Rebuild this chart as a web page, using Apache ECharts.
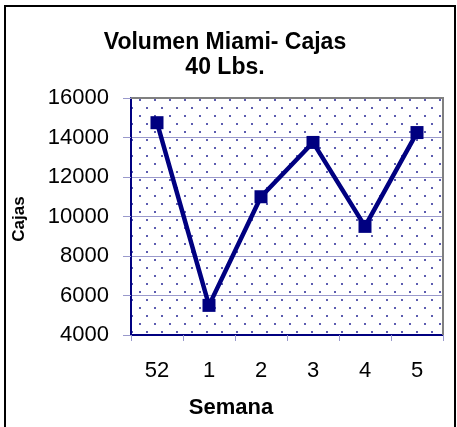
<!DOCTYPE html>
<html>
<head>
<meta charset="utf-8">
<script src="https://cdn.jsdelivr.net/npm/echarts@6/dist/echarts.min.js"></script>
<style>
  html, body { margin: 0; padding: 0; background: #fff; }
  #chart { width: 457px; height: 427px; }
</style>
</head>
<body>
<div id="chart"></div>
<script>
    // datos
    var semanas = ['52', '1', '2', '3', '4', '5'];
    var cajas = [14750, 5500, 11000, 13750, 9500, 14250];
    var yTicks = [4000, 6000, 8000, 10000, 12000, 14000, 16000];

    // dotted background like the excel fill
    var pat = document.createElement('canvas');
    pat.width = 15;
    pat.height = 16;
    var ctx = pat.getContext('2d');
    ctx.fillStyle = '#fff';
    ctx.fillRect(0, 0, 15, 16);
    ctx.fillStyle = '#5c5cb0';
    ctx.fillRect(4, 3, 2, 2);
    ctx.fillRect(11, 11, 2, 2);

    var FONT = 'Arial, Liberation Sans';

    var chart = echarts.init(document.getElementById('chart'));
    var option = {
        animation: false,
        grid: {
            left: 131, top: 98, width: 312, height: 237,
            show: true,
            backgroundColor: {image: pat, repeat: 'repeat'},
            borderWidth: 0
        },
        xAxis: {
            type: 'category',
            data: semanas,
            boundaryGap: true,
            axisLine: {lineStyle: {color: '#000080', width: 2}},
            axisTick: {show: true, inside: false, length: 6, lineStyle: {color: '#9999cc'}},
            axisLabel: {color: '#000', fontFamily: FONT, fontSize: 22, margin: 25}
        },
        yAxis: {
            type: 'value',
            min: yTicks[0],
            max: yTicks[yTicks.length - 1],
            interval: 2000,
            axisLine: {show: true, lineStyle: {color: '#000080', width: 2}},
            axisTick: {show: true, length: 8, lineStyle: {color: '#9999cc'}},
            splitLine: {show: true, lineStyle: {color: '#9999cc', width: 1}},
            axisLabel: {
                color: '#000', fontFamily: FONT, fontSize: 22, margin: 22,
                formatter: function (v) { return String(v); }
            }
        },
        graphic: [
            {type: 'rect', shape: {x: 5, y: 6, width: 450, height: 440}, style: {fill: 'none', stroke: '#000', lineWidth: 2}, z: 100},
            // gray frame of plot area top/right
            {type: 'polyline', shape: {points: [[131, 98], [443, 98], [443, 335]]}, style: {stroke: '#808080', lineWidth: 2, fill: 'none'}, z: 100},
            {type: 'text', style: {text: 'Volumen Miami- Cajas', x: 225, y: 43, textAlign: 'center', textVerticalAlign: 'middle', font: 'bold 23px ' + FONT, fill: '#000'}},
            {type: 'text', style: {text: '40 Lbs.', x: 225, y: 68, textAlign: 'center', textVerticalAlign: 'middle', font: 'bold 23px ' + FONT, fill: '#000'}},
            {type: 'text', style: {text: 'Semana', x: 231, y: 408, textAlign: 'center', textVerticalAlign: 'middle', font: 'bold 22px ' + FONT, fill: '#000'}},
            {type: 'text', x: 19, y: 219, rotation: Math.PI / 2, style: {text: 'Cajas', x: 0, y: 0, textAlign: 'center', textVerticalAlign: 'middle', font: 'bold 17px ' + FONT, fill: '#000'}}
        ],
        series: [
            {
                type: 'line',
                data: cajas,
                symbol: 'rect',
                symbolSize: 13,
                lineStyle: {color: '#000080', width: 4.5},
                itemStyle: {color: '#000080'}
            }
        ]
    };
    chart.setOption(option);
</script>
</body>
</html>
